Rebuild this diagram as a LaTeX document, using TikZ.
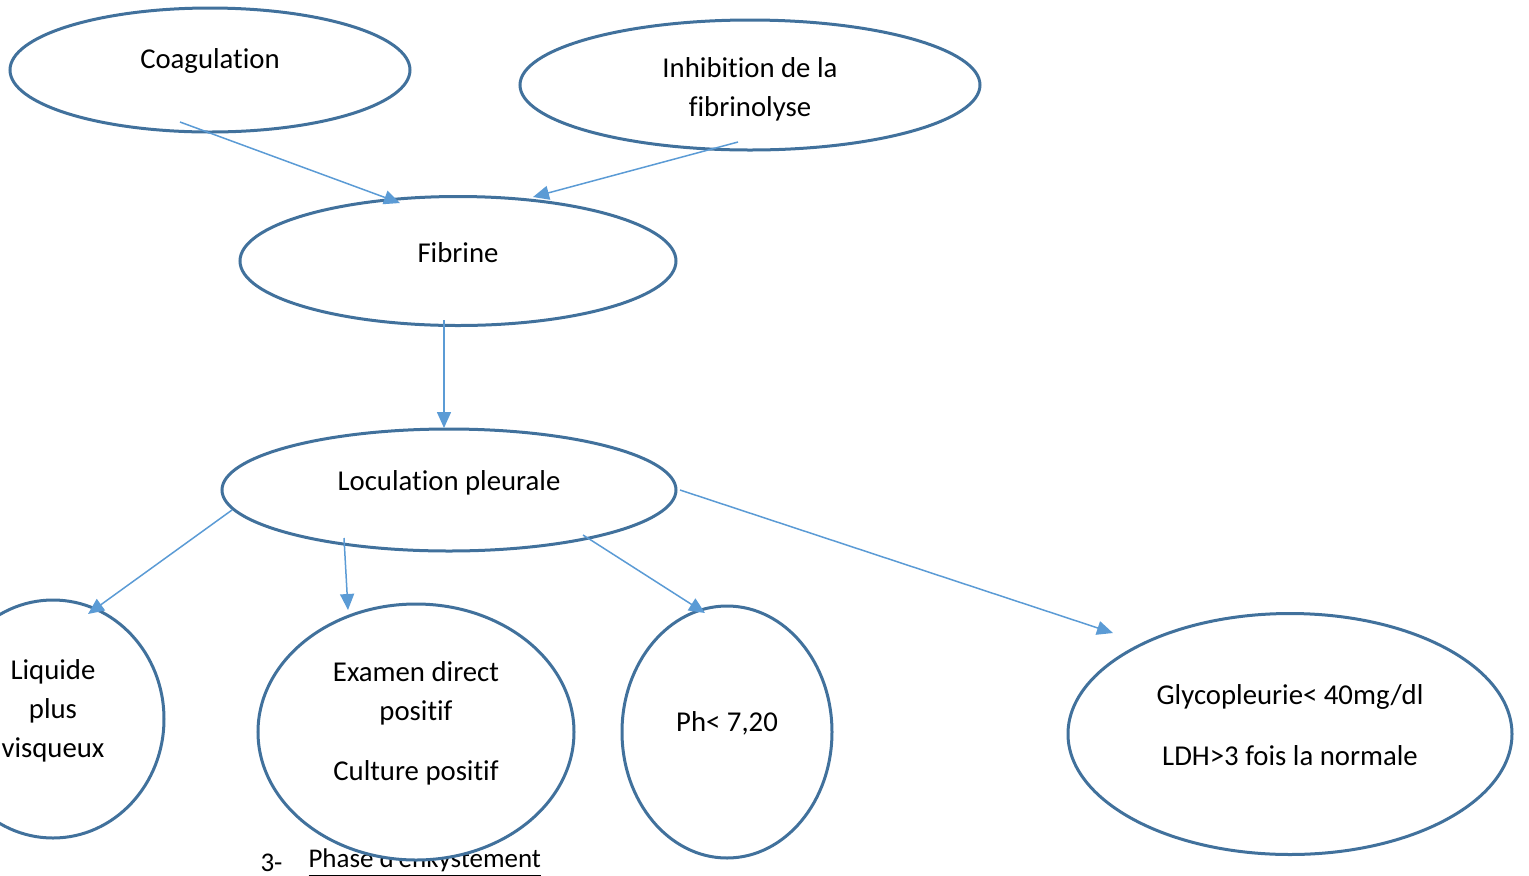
\documentclass[tikz,border=0pt]{standalone}
\usepackage{fontspec}
\setmainfont[Ligatures=NoCommon]{Carlito}
\usetikzlibrary{shapes.geometric,arrows.meta}
\definecolor{bord}{HTML}{41719C}
\definecolor{fleche}{HTML}{5B9BD5}
\begin{document}
\begin{tikzpicture}[x=0.4pt,y=-0.4pt,
    bulle/.style={ellipse,draw=bord,fill=white,line width=1.2pt,inner sep=0pt},
    txt/.style={font=\fontsize{11.5}{15.6}\selectfont,align=center,inner sep=0pt},
    fl/.style={draw=fleche,line width=0.6pt,-{Triangle[length=6.4pt,width=5.6pt]}}]
        \useasboundingbox (0,0) rectangle (1529,875);
        % titre sous les bulles
        \node[txt,font=\fontsize{10.8}{13}\selectfont,anchor=west](num) at (260,863) {3-};
        \node[txt,font=\fontsize{10.8}{13}\selectfont,anchor=west](titre) at (308,863) {\underline{Phase d'enkystement}};
        % bulles
        \node[bulle,minimum width=160pt,minimum height=49.6pt](coag) at (210,70) {};
        \node[bulle,minimum width=184pt,minimum height=52pt](inhib) at (750,85) {};
        \node[bulle,minimum width=174.4pt,minimum height=51.6pt](fib) at (458,261) {};
        \node[bulle,minimum width=181.6pt,minimum height=48.8pt](loc) at (449,490) {};
        \node[bulle,minimum width=88.8pt,minimum height=95.2pt](liq) at (53,719) {};
        \node[bulle,minimum width=126.4pt,minimum height=102.4pt](exam) at (416,732) {};
        \node[bulle,minimum width=84pt,minimum height=100.8pt](ph) at (727,732) {};
        \node[bulle,minimum width=177.6pt,minimum height=96.4pt](glyco) at (1290,734) {};
        % textes
        \node[txt](tcoag) at (210,61) {Coagulation};
        \node[txt](tinhib) at (750,89) {Inhibition de la\\fibrinolyse};
        \node[txt](tfib) at (458,253) {Fibrine};
        \node[txt](tloc) at (449,483) {Loculation pleurale};
        \node[txt](tliq) at (53,711) {Liquide\\plus\\visqueux};
        \node[txt](texam) at (416,723) {Examen direct\\positif\\[8.4pt]Culture positif};
        \node[txt](tph) at (727,723) {Ph< 7,20};
        \node[txt](tglyco) at (1290,725) {Glycopleurie< 40mg/dl\\[8.8pt]LDH>3 fois la normale};
        % fleches
        \draw[fl]([shift={(-30,52)}]coag.center)--([shift={(-58,-58)}]fib.center);
        \draw[fl]([shift={(-12,57)}]inhib.center)--([shift={(75,-64)}]fib.center);
        \draw[fl]([shift={(-14,59)}]fib.center)--([shift={(-5,-62)}]loc.center);
        \draw[fl]([shift={(-217,20)}]loc.center)--([shift={(35,-105)}]liq.center);
        \draw[fl]([shift={(-105,48)}]loc.center)--([shift={(-68,-122)}]exam.center);
        \draw[fl]([shift={(134,45)}]loc.center)--([shift={(-22,-119)}]ph.center);
        \draw[fl]([shift={(231,0)}]loc.center)--([shift={(-177,-101)}]glyco.center);
\end{tikzpicture}
\end{document}
